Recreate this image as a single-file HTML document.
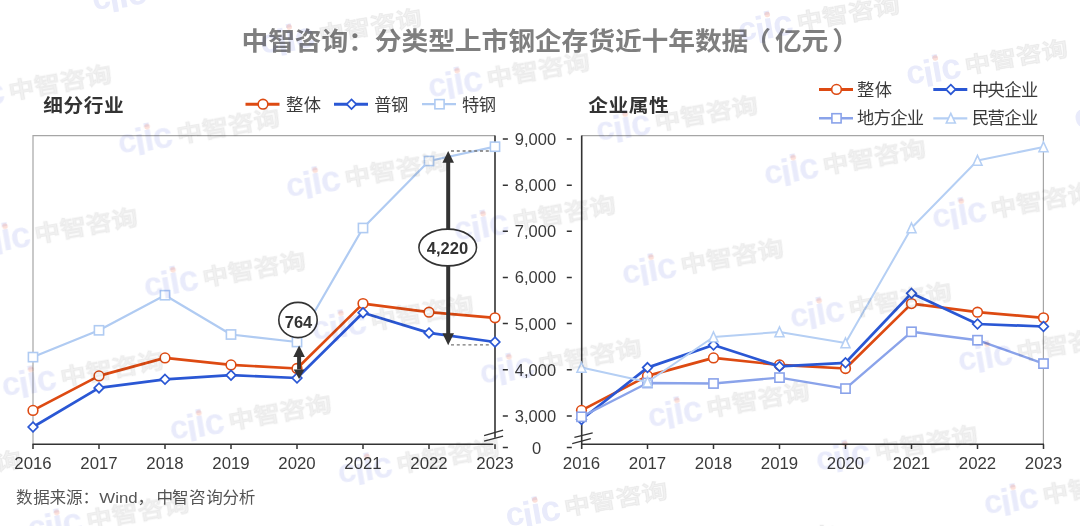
<!DOCTYPE html>
<html lang="zh-CN"><head><meta charset="utf-8"><title>中智咨询：分类型上市钢企存货近十年数据（亿元）</title>
<style>
html,body{margin:0;padding:0;background:#fff;width:1080px;height:526px;overflow:hidden;}
svg{display:block;}
text{font-family:"Liberation Sans","Noto Sans CJK SC",sans-serif;}
.cjk{font-family:"Liberation Sans","Noto Sans CJK SC",sans-serif;}
</style></head>
<body>
<svg width="1080" height="526" viewBox="0 0 1080 526">
<rect width="1080" height="526" fill="#fff"/>


<text class="cjk" transform="translate(241.50,50.20) scale(1.06,1)" x="0.00 25.16 50.32 75.48 100.64 125.80 150.96 176.12 201.28 226.44 251.60 276.76 301.92 327.08 352.25 377.41 402.57 427.73 452.89 474.27 503.21 528.37 557.30" y="0" font-size="25.3" font-weight="700" fill="#7f7f7f">中智咨询：分类型上市钢企存货近十年数据（亿元）</text>
<text class="cjk" transform="translate(43.30,111.90) scale(1.07,1)" x="0.00 18.88 37.76 56.64" y="0" font-size="18.4" font-weight="700" fill="#333">细分行业</text>
<text class="cjk" transform="translate(588.30,111.50) scale(1.07,1)" x="0.00 18.88 37.76 56.64" y="0" font-size="18.4" font-weight="700" fill="#333">企业属性</text>
<path d="M33 444.5V135.6H495" fill="none" stroke="#a6a6a6" stroke-width="1.2"/>
<path d="M32.5 444.3H493.3" stroke="#333" stroke-width="1.5"/>
<path d="M495 135.6V437.8" stroke="#333" stroke-width="1.6"/>
<path d="M33 444.3V449" stroke="#333" stroke-width="1.5"/>
<path d="M99 444.3V449" stroke="#333" stroke-width="1.5"/>
<path d="M165 444.3V449" stroke="#333" stroke-width="1.5"/>
<path d="M231 444.3V449" stroke="#333" stroke-width="1.5"/>
<path d="M297 444.3V449" stroke="#333" stroke-width="1.5"/>
<path d="M363 444.3V449" stroke="#333" stroke-width="1.5"/>
<path d="M429 444.3V449" stroke="#333" stroke-width="1.5"/>
<path d="M495 444.3V449" stroke="#333" stroke-width="1.5"/>
<path d="M484.1 435.7L503.1 430.2M484.1 441.2L503.1 436.1" stroke="#333" stroke-width="1.3"/>
<path d="M581.7 135.6H1043.4V444.3" fill="none" stroke="#a6a6a6" stroke-width="1.2"/>
<path d="M581.7 135.6V449" stroke="#333" stroke-width="1.6"/>
<path d="M581.7 444.3H1044" stroke="#333" stroke-width="1.5"/>
<path d="M647.5 444.3V449" stroke="#333" stroke-width="1.5"/>
<path d="M713.5 444.3V449" stroke="#333" stroke-width="1.5"/>
<path d="M779.5 444.3V449" stroke="#333" stroke-width="1.5"/>
<path d="M845.5 444.3V449" stroke="#333" stroke-width="1.5"/>
<path d="M911.5 444.3V449" stroke="#333" stroke-width="1.5"/>
<path d="M977.5 444.3V449" stroke="#333" stroke-width="1.5"/>
<path d="M1043.5 444.3V449" stroke="#333" stroke-width="1.5"/>
<path d="M574.4 437.4L592.7 432.9M572.2 443.7L590.8 438.7" stroke="#333" stroke-width="1.3"/>
<path d="M502.8 139.0H507.9M566.8 139.0H571.8" stroke="#333" stroke-width="1.5"/>
<text x="535.5" y="145.0" font-size="16.5" fill="#3a3a3a" text-anchor="middle">9,000</text>
<path d="M502.8 185.2H507.9M566.8 185.2H571.8" stroke="#333" stroke-width="1.5"/>
<text x="535.5" y="191.2" font-size="16.5" fill="#3a3a3a" text-anchor="middle">8,000</text>
<path d="M502.8 231.2H507.9M566.8 231.2H571.8" stroke="#333" stroke-width="1.5"/>
<text x="535.5" y="237.2" font-size="16.5" fill="#3a3a3a" text-anchor="middle">7,000</text>
<path d="M502.8 277.4H507.9M566.8 277.4H571.8" stroke="#333" stroke-width="1.5"/>
<text x="535.5" y="283.4" font-size="16.5" fill="#3a3a3a" text-anchor="middle">6,000</text>
<path d="M502.8 323.6H507.9M566.8 323.6H571.8" stroke="#333" stroke-width="1.5"/>
<text x="535.5" y="329.6" font-size="16.5" fill="#3a3a3a" text-anchor="middle">5,000</text>
<path d="M502.8 369.8H507.9M566.8 369.8H571.8" stroke="#333" stroke-width="1.5"/>
<text x="535.5" y="375.8" font-size="16.5" fill="#3a3a3a" text-anchor="middle">4,000</text>
<path d="M502.8 416.0H507.9M566.8 416.0H571.8" stroke="#333" stroke-width="1.5"/>
<text x="535.5" y="422.0" font-size="16.5" fill="#3a3a3a" text-anchor="middle">3,000</text>
<path d="M502.8 447.6H507.9M566.8 447.6H571.8" stroke="#333" stroke-width="1.5"/>
<text x="536.7" y="453.6" font-size="16.5" fill="#3a3a3a" text-anchor="middle">0</text>
<text x="33" y="469.3" font-size="16.8" fill="#3a3a3a" text-anchor="middle">2016</text>
<text x="99" y="469.3" font-size="16.8" fill="#3a3a3a" text-anchor="middle">2017</text>
<text x="165" y="469.3" font-size="16.8" fill="#3a3a3a" text-anchor="middle">2018</text>
<text x="231" y="469.3" font-size="16.8" fill="#3a3a3a" text-anchor="middle">2019</text>
<text x="297" y="469.3" font-size="16.8" fill="#3a3a3a" text-anchor="middle">2020</text>
<text x="363" y="469.3" font-size="16.8" fill="#3a3a3a" text-anchor="middle">2021</text>
<text x="429" y="469.3" font-size="16.8" fill="#3a3a3a" text-anchor="middle">2022</text>
<text x="495" y="469.3" font-size="16.8" fill="#3a3a3a" text-anchor="middle">2023</text>
<text x="581.5" y="469.3" font-size="16.8" fill="#3a3a3a" text-anchor="middle">2016</text>
<text x="647.5" y="469.3" font-size="16.8" fill="#3a3a3a" text-anchor="middle">2017</text>
<text x="713.5" y="469.3" font-size="16.8" fill="#3a3a3a" text-anchor="middle">2018</text>
<text x="779.5" y="469.3" font-size="16.8" fill="#3a3a3a" text-anchor="middle">2019</text>
<text x="845.5" y="469.3" font-size="16.8" fill="#3a3a3a" text-anchor="middle">2020</text>
<text x="911.5" y="469.3" font-size="16.8" fill="#3a3a3a" text-anchor="middle">2021</text>
<text x="977.5" y="469.3" font-size="16.8" fill="#3a3a3a" text-anchor="middle">2022</text>
<text x="1043.5" y="469.3" font-size="16.8" fill="#3a3a3a" text-anchor="middle">2023</text>
<polyline points="33.0,357.1 99.0,330.3 165.0,295.2 231.0,334.5 297.0,342.0 363.0,228.0 429.0,161.0 495.0,146.7" fill="none" stroke="#b0cbf2" stroke-width="2.2" stroke-linejoin="round"/><rect x="28.4" y="352.5" width="9.2" height="9.2" fill="#fff" stroke="#b0cbf2" stroke-width="1.6"/><rect x="94.4" y="325.7" width="9.2" height="9.2" fill="#fff" stroke="#b0cbf2" stroke-width="1.6"/><rect x="160.4" y="290.6" width="9.2" height="9.2" fill="#fff" stroke="#b0cbf2" stroke-width="1.6"/><rect x="226.4" y="329.9" width="9.2" height="9.2" fill="#fff" stroke="#b0cbf2" stroke-width="1.6"/><rect x="292.4" y="337.4" width="9.2" height="9.2" fill="#fff" stroke="#b0cbf2" stroke-width="1.6"/><rect x="358.4" y="223.4" width="9.2" height="9.2" fill="#fff" stroke="#b0cbf2" stroke-width="1.6"/><rect x="424.4" y="156.4" width="9.2" height="9.2" fill="#fff" stroke="#b0cbf2" stroke-width="1.6"/><rect x="490.4" y="142.1" width="9.2" height="9.2" fill="#fff" stroke="#b0cbf2" stroke-width="1.6"/>
<polyline points="33.0,410.4 99.0,375.9 165.0,357.9 231.0,364.9 297.0,368.5 363.0,303.6 429.0,312.2 495.0,317.8" fill="none" stroke="#dd4a12" stroke-width="2.7" stroke-linejoin="round"/><circle cx="33.0" cy="410.4" r="4.85" fill="#fff" stroke="#dd4a12" stroke-width="1.6"/><circle cx="99.0" cy="375.9" r="4.85" fill="#fff" stroke="#dd4a12" stroke-width="1.6"/><circle cx="165.0" cy="357.9" r="4.85" fill="#fff" stroke="#dd4a12" stroke-width="1.6"/><circle cx="231.0" cy="364.9" r="4.85" fill="#fff" stroke="#dd4a12" stroke-width="1.6"/><circle cx="297.0" cy="368.5" r="4.85" fill="#fff" stroke="#dd4a12" stroke-width="1.6"/><circle cx="363.0" cy="303.6" r="4.85" fill="#fff" stroke="#dd4a12" stroke-width="1.6"/><circle cx="429.0" cy="312.2" r="4.85" fill="#fff" stroke="#dd4a12" stroke-width="1.6"/><circle cx="495.0" cy="317.8" r="4.85" fill="#fff" stroke="#dd4a12" stroke-width="1.6"/>
<polyline points="33.0,427.0 99.0,387.9 165.0,379.3 231.0,375.2 297.0,378.0 363.0,312.7 429.0,332.9 495.0,342.0" fill="none" stroke="#2a57d4" stroke-width="2.7" stroke-linejoin="round"/><path d="M33.0 422.2L37.8 427.0L33.0 431.8L28.2 427.0Z" fill="#fff" stroke="#2a57d4" stroke-width="1.7"/><path d="M99.0 383.1L103.8 387.9L99.0 392.7L94.2 387.9Z" fill="#fff" stroke="#2a57d4" stroke-width="1.7"/><path d="M165.0 374.5L169.8 379.3L165.0 384.1L160.2 379.3Z" fill="#fff" stroke="#2a57d4" stroke-width="1.7"/><path d="M231.0 370.4L235.8 375.2L231.0 380.0L226.2 375.2Z" fill="#fff" stroke="#2a57d4" stroke-width="1.7"/><path d="M297.0 373.2L301.8 378.0L297.0 382.8L292.2 378.0Z" fill="#fff" stroke="#2a57d4" stroke-width="1.7"/><path d="M363.0 307.9L367.8 312.7L363.0 317.5L358.2 312.7Z" fill="#fff" stroke="#2a57d4" stroke-width="1.7"/><path d="M429.0 328.1L433.8 332.9L429.0 337.7L424.2 332.9Z" fill="#fff" stroke="#2a57d4" stroke-width="1.7"/><path d="M495.0 337.2L499.8 342.0L495.0 346.8L490.2 342.0Z" fill="#fff" stroke="#2a57d4" stroke-width="1.7"/>
<path d="M451 151H490" stroke="#777" stroke-width="1.3" stroke-dasharray="3 2.8"/>
<path d="M451 344.8H490" stroke="#777" stroke-width="1.3" stroke-dasharray="3 2.8"/>
<path d="M448.2 162V334" stroke="#333" stroke-width="4"/>
<path d="M448.2 151L454 162.8H442.4Z" fill="#333"/>
<path d="M448.2 345.2L454 333.3H442.4Z" fill="#333"/>
<ellipse cx="447.7" cy="247.5" rx="28.8" ry="18.4" fill="#fff" stroke="#333" stroke-width="1.6"/>
<text x="447.5" y="254.2" font-size="16.5" font-weight="700" fill="#333" text-anchor="middle">4,220</text>
<path d="M299.1 356V369.5" stroke="#333" stroke-width="4"/>
<path d="M299.1 345.4L304.9 357H293.3Z" fill="#333"/>
<path d="M299.1 379L304.5 369.5H293.7Z" fill="#333"/>
<ellipse cx="298" cy="320" rx="19.2" ry="17.6" fill="#fff" stroke="#333" stroke-width="1.6"/>
<text x="298.5" y="327.7" font-size="16.5" font-weight="700" fill="#333" text-anchor="middle">764</text>
<polyline points="581.5,410.4 647.5,375.9 713.5,357.9 779.5,364.9 845.5,368.5 911.5,303.6 977.5,312.2 1043.5,317.8" fill="none" stroke="#dd4a12" stroke-width="2.7" stroke-linejoin="round"/><circle cx="581.5" cy="410.4" r="4.85" fill="#fff" stroke="#dd4a12" stroke-width="1.6"/><circle cx="647.5" cy="375.9" r="4.85" fill="#fff" stroke="#dd4a12" stroke-width="1.6"/><circle cx="713.5" cy="357.9" r="4.85" fill="#fff" stroke="#dd4a12" stroke-width="1.6"/><circle cx="779.5" cy="364.9" r="4.85" fill="#fff" stroke="#dd4a12" stroke-width="1.6"/><circle cx="845.5" cy="368.5" r="4.85" fill="#fff" stroke="#dd4a12" stroke-width="1.6"/><circle cx="911.5" cy="303.6" r="4.85" fill="#fff" stroke="#dd4a12" stroke-width="1.6"/><circle cx="977.5" cy="312.2" r="4.85" fill="#fff" stroke="#dd4a12" stroke-width="1.6"/><circle cx="1043.5" cy="317.8" r="4.85" fill="#fff" stroke="#dd4a12" stroke-width="1.6"/>
<polyline points="581.5,419.5 647.5,367.6 713.5,345.0 779.5,366.4 845.5,362.8 911.5,293.3 977.5,324.0 1043.5,326.5" fill="none" stroke="#2a57d4" stroke-width="2.7" stroke-linejoin="round"/><path d="M581.5 414.7L586.3 419.5L581.5 424.3L576.7 419.5Z" fill="#fff" stroke="#2a57d4" stroke-width="1.7"/><path d="M647.5 362.8L652.3 367.6L647.5 372.4L642.7 367.6Z" fill="#fff" stroke="#2a57d4" stroke-width="1.7"/><path d="M713.5 340.2L718.3 345.0L713.5 349.8L708.7 345.0Z" fill="#fff" stroke="#2a57d4" stroke-width="1.7"/><path d="M779.5 361.6L784.3 366.4L779.5 371.2L774.7 366.4Z" fill="#fff" stroke="#2a57d4" stroke-width="1.7"/><path d="M845.5 358.0L850.3 362.8L845.5 367.6L840.7 362.8Z" fill="#fff" stroke="#2a57d4" stroke-width="1.7"/><path d="M911.5 288.5L916.3 293.3L911.5 298.1L906.7 293.3Z" fill="#fff" stroke="#2a57d4" stroke-width="1.7"/><path d="M977.5 319.2L982.3 324.0L977.5 328.8L972.7 324.0Z" fill="#fff" stroke="#2a57d4" stroke-width="1.7"/><path d="M1043.5 321.7L1048.3 326.5L1043.5 331.3L1038.7 326.5Z" fill="#fff" stroke="#2a57d4" stroke-width="1.7"/>
<polyline points="581.5,416.8 647.5,383.0 713.5,383.5 779.5,377.6 845.5,388.6 911.5,331.8 977.5,340.2 1043.5,363.6" fill="none" stroke="#8aa3ea" stroke-width="2.4" stroke-linejoin="round"/><rect x="576.9" y="412.2" width="9.2" height="9.2" fill="#fff" stroke="#8aa3ea" stroke-width="1.6"/><rect x="642.9" y="378.4" width="9.2" height="9.2" fill="#fff" stroke="#8aa3ea" stroke-width="1.6"/><rect x="708.9" y="378.9" width="9.2" height="9.2" fill="#fff" stroke="#8aa3ea" stroke-width="1.6"/><rect x="774.9" y="373.0" width="9.2" height="9.2" fill="#fff" stroke="#8aa3ea" stroke-width="1.6"/><rect x="840.9" y="384.0" width="9.2" height="9.2" fill="#fff" stroke="#8aa3ea" stroke-width="1.6"/><rect x="906.9" y="327.2" width="9.2" height="9.2" fill="#fff" stroke="#8aa3ea" stroke-width="1.6"/><rect x="972.9" y="335.6" width="9.2" height="9.2" fill="#fff" stroke="#8aa3ea" stroke-width="1.6"/><rect x="1038.9" y="359.0" width="9.2" height="9.2" fill="#fff" stroke="#8aa3ea" stroke-width="1.6"/>
<polyline points="581.5,367.5 647.5,382.0 713.5,337.0 779.5,332.0 845.5,343.0 911.5,228.0 977.5,160.5 1043.5,147.0" fill="none" stroke="#b5cff4" stroke-width="2.0" stroke-linejoin="round"/><path d="M581.5 362.5L586.0 372.2L577.0 372.2Z" fill="#fff" stroke="#b5cff4" stroke-width="1.6" stroke-linejoin="miter"/><path d="M647.5 377.0L652.0 386.7L643.0 386.7Z" fill="#fff" stroke="#b5cff4" stroke-width="1.6" stroke-linejoin="miter"/><path d="M713.5 332.0L718.0 341.7L709.0 341.7Z" fill="#fff" stroke="#b5cff4" stroke-width="1.6" stroke-linejoin="miter"/><path d="M779.5 327.0L784.0 336.7L775.0 336.7Z" fill="#fff" stroke="#b5cff4" stroke-width="1.6" stroke-linejoin="miter"/><path d="M845.5 338.0L850.0 347.7L841.0 347.7Z" fill="#fff" stroke="#b5cff4" stroke-width="1.6" stroke-linejoin="miter"/><path d="M911.5 223.0L916.0 232.7L907.0 232.7Z" fill="#fff" stroke="#b5cff4" stroke-width="1.6" stroke-linejoin="miter"/><path d="M977.5 155.5L982.0 165.2L973.0 165.2Z" fill="#fff" stroke="#b5cff4" stroke-width="1.6" stroke-linejoin="miter"/><path d="M1043.5 142.0L1048.0 151.7L1039.0 151.7Z" fill="#fff" stroke="#b5cff4" stroke-width="1.6" stroke-linejoin="miter"/>
<path d="M245.5 104.2H279.5" stroke="#dd4a12" stroke-width="3"/><circle cx="263.0" cy="104.2" r="4.85" fill="#fff" stroke="#dd4a12" stroke-width="1.6"/>
<path d="M334 104.2H368" stroke="#2a57d4" stroke-width="3"/><path d="M351.5 99.4L356.3 104.2L351.5 109.0L346.7 104.2Z" fill="#fff" stroke="#2a57d4" stroke-width="1.7"/>
<path d="M422 104.2H456" stroke="#b0cbf2" stroke-width="2.2"/><rect x="434.9" y="99.6" width="9.2" height="9.2" fill="#fff" stroke="#b0cbf2" stroke-width="1.6"/>
<text class="cjk" transform="translate(286.00,110.50) scale(1.03,1)" x="0.00 17.28" y="0" font-size="16.8" font-weight="400" fill="#3a3a3a">整体</text>
<text class="cjk" transform="translate(374.30,110.50) scale(1.03,1)" x="0.00 16.12" y="0" font-size="16.8" font-weight="400" fill="#3a3a3a">普钢</text>
<text class="cjk" transform="translate(462.10,110.50) scale(1.03,1)" x="0.00 16.12" y="0" font-size="16.8" font-weight="400" fill="#3a3a3a">特钢</text>
<path d="M819 89.4H853" stroke="#dd4a12" stroke-width="3"/><circle cx="836.5" cy="89.4" r="4.85" fill="#fff" stroke="#dd4a12" stroke-width="1.6"/>
<path d="M933.3 89.4H967.3" stroke="#2a57d4" stroke-width="3"/><path d="M950.8 84.6L955.6 89.4L950.8 94.2L946.0 89.4Z" fill="#fff" stroke="#2a57d4" stroke-width="1.7"/>
<path d="M819 118.3H853" stroke="#8aa3ea" stroke-width="2.6"/><rect x="831.9" y="113.7" width="9.2" height="9.2" fill="#fff" stroke="#8aa3ea" stroke-width="1.6"/>
<path d="M933.3 118.3H967.3" stroke="#b5cff4" stroke-width="2.2"/><path d="M950.8 113.3L955.3 123.0L946.3 123.0Z" fill="#fff" stroke="#b5cff4" stroke-width="1.6" stroke-linejoin="miter"/>
<text class="cjk" transform="translate(857.00,95.90) scale(1.03,1)" x="0.00 17.28" y="0" font-size="16.8" font-weight="400" fill="#3a3a3a">整体</text>
<text class="cjk" transform="translate(972.00,95.90) scale(1.03,1)" x="0.00 15.15 31.36 47.48" y="0" font-size="16.8" font-weight="400" fill="#3a3a3a">中央企业</text>
<text class="cjk" transform="translate(857.00,124.40) scale(1.03,1)" x="0.00 16.12 32.23 48.35" y="0" font-size="16.8" font-weight="400" fill="#3a3a3a">地方企业</text>
<text class="cjk" transform="translate(972.00,124.40) scale(1.03,1)" x="0.00 15.15 31.36 47.48" y="0" font-size="16.8" font-weight="400" fill="#3a3a3a">民营企业</text>
<text class="cjk" transform="translate(16.00,502.90) scale(1.05,1)" x="0.00 16.48 32.00 47.52 63.33" y="0" font-size="15.8" font-weight="400" fill="#555">数据来源：</text>
<text x="99.3" y="502.9" font-size="15.3" fill="#555" textLength="38.3" lengthAdjust="spacingAndGlyphs">Wind</text>
<text class="cjk" transform="translate(137.50,502.90) scale(1.05,1)" x="0.00 18.00 32.86 48.95 65.52 81.05 96.38" y="0" font-size="15.8" font-weight="400" fill="#555">，中智咨询分析</text>
<g style="mix-blend-mode:multiply"><g transform="translate(630.0,-13.1) rotate(-10)"><text class="cjk" transform="scale(1.19,1)" x="0" y="0" font-size="22" font-weight="700" letter-spacing="0" fill="#8c8c8c" fill-opacity="0.12" stroke="#8c8c8c" stroke-opacity="0.095" stroke-width="1">中智咨询</text><text x="-59.0 -42.3 -33.2 -23.9" y="0.5 6.0 3.0 2.5" font-weight="700" fill="#5566dd" opacity="0.13" font-family="Liberation Sans"><tspan font-size="33">c</tspan><tspan font-size="38">ii</tspan><tspan font-size="36">c</tspan></text><circle cx="-27.5" cy="-21" r="2.8" fill="#f07050" opacity="0.22"/></g><g transform="translate(798.0,30.4) rotate(-10)"><text class="cjk" transform="scale(1.19,1)" x="0" y="0" font-size="22" font-weight="700" letter-spacing="0" fill="#8c8c8c" fill-opacity="0.12" stroke="#8c8c8c" stroke-opacity="0.095" stroke-width="1">中智咨询</text><text x="-59.0 -42.3 -33.2 -23.9" y="0.5 6.0 3.0 2.5" font-weight="700" fill="#5566dd" opacity="0.13" font-family="Liberation Sans"><tspan font-size="33">c</tspan><tspan font-size="38">ii</tspan><tspan font-size="36">c</tspan></text><circle cx="-27.5" cy="-21" r="2.8" fill="#f07050" opacity="0.22"/></g><g transform="translate(966.0,73.9) rotate(-10)"><text class="cjk" transform="scale(1.19,1)" x="0" y="0" font-size="22" font-weight="700" letter-spacing="0" fill="#8c8c8c" fill-opacity="0.12" stroke="#8c8c8c" stroke-opacity="0.095" stroke-width="1">中智咨询</text><text x="-59.0 -42.3 -33.2 -23.9" y="0.5 6.0 3.0 2.5" font-weight="700" fill="#5566dd" opacity="0.13" font-family="Liberation Sans"><tspan font-size="33">c</tspan><tspan font-size="38">ii</tspan><tspan font-size="36">c</tspan></text><circle cx="-27.5" cy="-21" r="2.8" fill="#f07050" opacity="0.22"/></g><g transform="translate(1134.0,117.4) rotate(-10)"><text class="cjk" transform="scale(1.19,1)" x="0" y="0" font-size="22" font-weight="700" letter-spacing="0" fill="#8c8c8c" fill-opacity="0.12" stroke="#8c8c8c" stroke-opacity="0.095" stroke-width="1">中智咨询</text><text x="-59.0 -42.3 -33.2 -23.9" y="0.5 6.0 3.0 2.5" font-weight="700" fill="#5566dd" opacity="0.13" font-family="Liberation Sans"><tspan font-size="33">c</tspan><tspan font-size="38">ii</tspan><tspan font-size="36">c</tspan></text><circle cx="-27.5" cy="-21" r="2.8" fill="#f07050" opacity="0.22"/></g><g transform="translate(151.9,-0.5) rotate(-10)"><text class="cjk" transform="scale(1.19,1)" x="0" y="0" font-size="22" font-weight="700" letter-spacing="0" fill="#8c8c8c" fill-opacity="0.12" stroke="#8c8c8c" stroke-opacity="0.095" stroke-width="1">中智咨询</text><text x="-59.0 -42.3 -33.2 -23.9" y="0.5 6.0 3.0 2.5" font-weight="700" fill="#5566dd" opacity="0.13" font-family="Liberation Sans"><tspan font-size="33">c</tspan><tspan font-size="38">ii</tspan><tspan font-size="36">c</tspan></text><circle cx="-27.5" cy="-21" r="2.8" fill="#f07050" opacity="0.22"/></g><g transform="translate(319.9,43.0) rotate(-10)"><text class="cjk" transform="scale(1.19,1)" x="0" y="0" font-size="22" font-weight="700" letter-spacing="0" fill="#8c8c8c" fill-opacity="0.12" stroke="#8c8c8c" stroke-opacity="0.095" stroke-width="1">中智咨询</text><text x="-59.0 -42.3 -33.2 -23.9" y="0.5 6.0 3.0 2.5" font-weight="700" fill="#5566dd" opacity="0.13" font-family="Liberation Sans"><tspan font-size="33">c</tspan><tspan font-size="38">ii</tspan><tspan font-size="36">c</tspan></text><circle cx="-27.5" cy="-21" r="2.8" fill="#f07050" opacity="0.22"/></g><g transform="translate(487.9,86.5) rotate(-10)"><text class="cjk" transform="scale(1.19,1)" x="0" y="0" font-size="22" font-weight="700" letter-spacing="0" fill="#8c8c8c" fill-opacity="0.12" stroke="#8c8c8c" stroke-opacity="0.095" stroke-width="1">中智咨询</text><text x="-59.0 -42.3 -33.2 -23.9" y="0.5 6.0 3.0 2.5" font-weight="700" fill="#5566dd" opacity="0.13" font-family="Liberation Sans"><tspan font-size="33">c</tspan><tspan font-size="38">ii</tspan><tspan font-size="36">c</tspan></text><circle cx="-27.5" cy="-21" r="2.8" fill="#f07050" opacity="0.22"/></g><g transform="translate(655.9,130.0) rotate(-10)"><text class="cjk" transform="scale(1.19,1)" x="0" y="0" font-size="22" font-weight="700" letter-spacing="0" fill="#8c8c8c" fill-opacity="0.12" stroke="#8c8c8c" stroke-opacity="0.095" stroke-width="1">中智咨询</text><text x="-59.0 -42.3 -33.2 -23.9" y="0.5 6.0 3.0 2.5" font-weight="700" fill="#5566dd" opacity="0.13" font-family="Liberation Sans"><tspan font-size="33">c</tspan><tspan font-size="38">ii</tspan><tspan font-size="36">c</tspan></text><circle cx="-27.5" cy="-21" r="2.8" fill="#f07050" opacity="0.22"/></g><g transform="translate(823.9,173.5) rotate(-10)"><text class="cjk" transform="scale(1.19,1)" x="0" y="0" font-size="22" font-weight="700" letter-spacing="0" fill="#8c8c8c" fill-opacity="0.12" stroke="#8c8c8c" stroke-opacity="0.095" stroke-width="1">中智咨询</text><text x="-59.0 -42.3 -33.2 -23.9" y="0.5 6.0 3.0 2.5" font-weight="700" fill="#5566dd" opacity="0.13" font-family="Liberation Sans"><tspan font-size="33">c</tspan><tspan font-size="38">ii</tspan><tspan font-size="36">c</tspan></text><circle cx="-27.5" cy="-21" r="2.8" fill="#f07050" opacity="0.22"/></g><g transform="translate(991.9,217.0) rotate(-10)"><text class="cjk" transform="scale(1.19,1)" x="0" y="0" font-size="22" font-weight="700" letter-spacing="0" fill="#8c8c8c" fill-opacity="0.12" stroke="#8c8c8c" stroke-opacity="0.095" stroke-width="1">中智咨询</text><text x="-59.0 -42.3 -33.2 -23.9" y="0.5 6.0 3.0 2.5" font-weight="700" fill="#5566dd" opacity="0.13" font-family="Liberation Sans"><tspan font-size="33">c</tspan><tspan font-size="38">ii</tspan><tspan font-size="36">c</tspan></text><circle cx="-27.5" cy="-21" r="2.8" fill="#f07050" opacity="0.22"/></g><g transform="translate(9.8,99.1) rotate(-10)"><text class="cjk" transform="scale(1.19,1)" x="0" y="0" font-size="22" font-weight="700" letter-spacing="0" fill="#8c8c8c" fill-opacity="0.12" stroke="#8c8c8c" stroke-opacity="0.095" stroke-width="1">中智咨询</text><text x="-59.0 -42.3 -33.2 -23.9" y="0.5 6.0 3.0 2.5" font-weight="700" fill="#5566dd" opacity="0.13" font-family="Liberation Sans"><tspan font-size="33">c</tspan><tspan font-size="38">ii</tspan><tspan font-size="36">c</tspan></text><circle cx="-27.5" cy="-21" r="2.8" fill="#f07050" opacity="0.22"/></g><g transform="translate(177.8,142.6) rotate(-10)"><text class="cjk" transform="scale(1.19,1)" x="0" y="0" font-size="22" font-weight="700" letter-spacing="0" fill="#8c8c8c" fill-opacity="0.12" stroke="#8c8c8c" stroke-opacity="0.095" stroke-width="1">中智咨询</text><text x="-59.0 -42.3 -33.2 -23.9" y="0.5 6.0 3.0 2.5" font-weight="700" fill="#5566dd" opacity="0.13" font-family="Liberation Sans"><tspan font-size="33">c</tspan><tspan font-size="38">ii</tspan><tspan font-size="36">c</tspan></text><circle cx="-27.5" cy="-21" r="2.8" fill="#f07050" opacity="0.22"/></g><g transform="translate(345.8,186.1) rotate(-10)"><text class="cjk" transform="scale(1.19,1)" x="0" y="0" font-size="22" font-weight="700" letter-spacing="0" fill="#8c8c8c" fill-opacity="0.12" stroke="#8c8c8c" stroke-opacity="0.095" stroke-width="1">中智咨询</text><text x="-59.0 -42.3 -33.2 -23.9" y="0.5 6.0 3.0 2.5" font-weight="700" fill="#5566dd" opacity="0.13" font-family="Liberation Sans"><tspan font-size="33">c</tspan><tspan font-size="38">ii</tspan><tspan font-size="36">c</tspan></text><circle cx="-27.5" cy="-21" r="2.8" fill="#f07050" opacity="0.22"/></g><g transform="translate(513.8,229.6) rotate(-10)"><text class="cjk" transform="scale(1.19,1)" x="0" y="0" font-size="22" font-weight="700" letter-spacing="0" fill="#8c8c8c" fill-opacity="0.12" stroke="#8c8c8c" stroke-opacity="0.095" stroke-width="1">中智咨询</text><text x="-59.0 -42.3 -33.2 -23.9" y="0.5 6.0 3.0 2.5" font-weight="700" fill="#5566dd" opacity="0.13" font-family="Liberation Sans"><tspan font-size="33">c</tspan><tspan font-size="38">ii</tspan><tspan font-size="36">c</tspan></text><circle cx="-27.5" cy="-21" r="2.8" fill="#f07050" opacity="0.22"/></g><g transform="translate(681.8,273.1) rotate(-10)"><text class="cjk" transform="scale(1.19,1)" x="0" y="0" font-size="22" font-weight="700" letter-spacing="0" fill="#8c8c8c" fill-opacity="0.12" stroke="#8c8c8c" stroke-opacity="0.095" stroke-width="1">中智咨询</text><text x="-59.0 -42.3 -33.2 -23.9" y="0.5 6.0 3.0 2.5" font-weight="700" fill="#5566dd" opacity="0.13" font-family="Liberation Sans"><tspan font-size="33">c</tspan><tspan font-size="38">ii</tspan><tspan font-size="36">c</tspan></text><circle cx="-27.5" cy="-21" r="2.8" fill="#f07050" opacity="0.22"/></g><g transform="translate(849.8,316.6) rotate(-10)"><text class="cjk" transform="scale(1.19,1)" x="0" y="0" font-size="22" font-weight="700" letter-spacing="0" fill="#8c8c8c" fill-opacity="0.12" stroke="#8c8c8c" stroke-opacity="0.095" stroke-width="1">中智咨询</text><text x="-59.0 -42.3 -33.2 -23.9" y="0.5 6.0 3.0 2.5" font-weight="700" fill="#5566dd" opacity="0.13" font-family="Liberation Sans"><tspan font-size="33">c</tspan><tspan font-size="38">ii</tspan><tspan font-size="36">c</tspan></text><circle cx="-27.5" cy="-21" r="2.8" fill="#f07050" opacity="0.22"/></g><g transform="translate(1017.8,360.1) rotate(-10)"><text class="cjk" transform="scale(1.19,1)" x="0" y="0" font-size="22" font-weight="700" letter-spacing="0" fill="#8c8c8c" fill-opacity="0.12" stroke="#8c8c8c" stroke-opacity="0.095" stroke-width="1">中智咨询</text><text x="-59.0 -42.3 -33.2 -23.9" y="0.5 6.0 3.0 2.5" font-weight="700" fill="#5566dd" opacity="0.13" font-family="Liberation Sans"><tspan font-size="33">c</tspan><tspan font-size="38">ii</tspan><tspan font-size="36">c</tspan></text><circle cx="-27.5" cy="-21" r="2.8" fill="#f07050" opacity="0.22"/></g><g transform="translate(35.7,242.2) rotate(-10)"><text class="cjk" transform="scale(1.19,1)" x="0" y="0" font-size="22" font-weight="700" letter-spacing="0" fill="#8c8c8c" fill-opacity="0.12" stroke="#8c8c8c" stroke-opacity="0.095" stroke-width="1">中智咨询</text><text x="-59.0 -42.3 -33.2 -23.9" y="0.5 6.0 3.0 2.5" font-weight="700" fill="#5566dd" opacity="0.13" font-family="Liberation Sans"><tspan font-size="33">c</tspan><tspan font-size="38">ii</tspan><tspan font-size="36">c</tspan></text><circle cx="-27.5" cy="-21" r="2.8" fill="#f07050" opacity="0.22"/></g><g transform="translate(203.7,285.7) rotate(-10)"><text class="cjk" transform="scale(1.19,1)" x="0" y="0" font-size="22" font-weight="700" letter-spacing="0" fill="#8c8c8c" fill-opacity="0.12" stroke="#8c8c8c" stroke-opacity="0.095" stroke-width="1">中智咨询</text><text x="-59.0 -42.3 -33.2 -23.9" y="0.5 6.0 3.0 2.5" font-weight="700" fill="#5566dd" opacity="0.13" font-family="Liberation Sans"><tspan font-size="33">c</tspan><tspan font-size="38">ii</tspan><tspan font-size="36">c</tspan></text><circle cx="-27.5" cy="-21" r="2.8" fill="#f07050" opacity="0.22"/></g><g transform="translate(371.7,329.2) rotate(-10)"><text class="cjk" transform="scale(1.19,1)" x="0" y="0" font-size="22" font-weight="700" letter-spacing="0" fill="#8c8c8c" fill-opacity="0.12" stroke="#8c8c8c" stroke-opacity="0.095" stroke-width="1">中智咨询</text><text x="-59.0 -42.3 -33.2 -23.9" y="0.5 6.0 3.0 2.5" font-weight="700" fill="#5566dd" opacity="0.13" font-family="Liberation Sans"><tspan font-size="33">c</tspan><tspan font-size="38">ii</tspan><tspan font-size="36">c</tspan></text><circle cx="-27.5" cy="-21" r="2.8" fill="#f07050" opacity="0.22"/></g><g transform="translate(539.7,372.7) rotate(-10)"><text class="cjk" transform="scale(1.19,1)" x="0" y="0" font-size="22" font-weight="700" letter-spacing="0" fill="#8c8c8c" fill-opacity="0.12" stroke="#8c8c8c" stroke-opacity="0.095" stroke-width="1">中智咨询</text><text x="-59.0 -42.3 -33.2 -23.9" y="0.5 6.0 3.0 2.5" font-weight="700" fill="#5566dd" opacity="0.13" font-family="Liberation Sans"><tspan font-size="33">c</tspan><tspan font-size="38">ii</tspan><tspan font-size="36">c</tspan></text><circle cx="-27.5" cy="-21" r="2.8" fill="#f07050" opacity="0.22"/></g><g transform="translate(707.7,416.2) rotate(-10)"><text class="cjk" transform="scale(1.19,1)" x="0" y="0" font-size="22" font-weight="700" letter-spacing="0" fill="#8c8c8c" fill-opacity="0.12" stroke="#8c8c8c" stroke-opacity="0.095" stroke-width="1">中智咨询</text><text x="-59.0 -42.3 -33.2 -23.9" y="0.5 6.0 3.0 2.5" font-weight="700" fill="#5566dd" opacity="0.13" font-family="Liberation Sans"><tspan font-size="33">c</tspan><tspan font-size="38">ii</tspan><tspan font-size="36">c</tspan></text><circle cx="-27.5" cy="-21" r="2.8" fill="#f07050" opacity="0.22"/></g><g transform="translate(875.7,459.7) rotate(-10)"><text class="cjk" transform="scale(1.19,1)" x="0" y="0" font-size="22" font-weight="700" letter-spacing="0" fill="#8c8c8c" fill-opacity="0.12" stroke="#8c8c8c" stroke-opacity="0.095" stroke-width="1">中智咨询</text><text x="-59.0 -42.3 -33.2 -23.9" y="0.5 6.0 3.0 2.5" font-weight="700" fill="#5566dd" opacity="0.13" font-family="Liberation Sans"><tspan font-size="33">c</tspan><tspan font-size="38">ii</tspan><tspan font-size="36">c</tspan></text><circle cx="-27.5" cy="-21" r="2.8" fill="#f07050" opacity="0.22"/></g><g transform="translate(1043.7,503.2) rotate(-10)"><text class="cjk" transform="scale(1.19,1)" x="0" y="0" font-size="22" font-weight="700" letter-spacing="0" fill="#8c8c8c" fill-opacity="0.12" stroke="#8c8c8c" stroke-opacity="0.095" stroke-width="1">中智咨询</text><text x="-59.0 -42.3 -33.2 -23.9" y="0.5 6.0 3.0 2.5" font-weight="700" fill="#5566dd" opacity="0.13" font-family="Liberation Sans"><tspan font-size="33">c</tspan><tspan font-size="38">ii</tspan><tspan font-size="36">c</tspan></text><circle cx="-27.5" cy="-21" r="2.8" fill="#f07050" opacity="0.22"/></g><g transform="translate(-106.4,341.8) rotate(-10)"><text class="cjk" transform="scale(1.19,1)" x="0" y="0" font-size="22" font-weight="700" letter-spacing="0" fill="#8c8c8c" fill-opacity="0.12" stroke="#8c8c8c" stroke-opacity="0.095" stroke-width="1">中智咨询</text><text x="-59.0 -42.3 -33.2 -23.9" y="0.5 6.0 3.0 2.5" font-weight="700" fill="#5566dd" opacity="0.13" font-family="Liberation Sans"><tspan font-size="33">c</tspan><tspan font-size="38">ii</tspan><tspan font-size="36">c</tspan></text><circle cx="-27.5" cy="-21" r="2.8" fill="#f07050" opacity="0.22"/></g><g transform="translate(61.6,385.3) rotate(-10)"><text class="cjk" transform="scale(1.19,1)" x="0" y="0" font-size="22" font-weight="700" letter-spacing="0" fill="#8c8c8c" fill-opacity="0.12" stroke="#8c8c8c" stroke-opacity="0.095" stroke-width="1">中智咨询</text><text x="-59.0 -42.3 -33.2 -23.9" y="0.5 6.0 3.0 2.5" font-weight="700" fill="#5566dd" opacity="0.13" font-family="Liberation Sans"><tspan font-size="33">c</tspan><tspan font-size="38">ii</tspan><tspan font-size="36">c</tspan></text><circle cx="-27.5" cy="-21" r="2.8" fill="#f07050" opacity="0.22"/></g><g transform="translate(229.6,428.8) rotate(-10)"><text class="cjk" transform="scale(1.19,1)" x="0" y="0" font-size="22" font-weight="700" letter-spacing="0" fill="#8c8c8c" fill-opacity="0.12" stroke="#8c8c8c" stroke-opacity="0.095" stroke-width="1">中智咨询</text><text x="-59.0 -42.3 -33.2 -23.9" y="0.5 6.0 3.0 2.5" font-weight="700" fill="#5566dd" opacity="0.13" font-family="Liberation Sans"><tspan font-size="33">c</tspan><tspan font-size="38">ii</tspan><tspan font-size="36">c</tspan></text><circle cx="-27.5" cy="-21" r="2.8" fill="#f07050" opacity="0.22"/></g><g transform="translate(397.6,472.3) rotate(-10)"><text class="cjk" transform="scale(1.19,1)" x="0" y="0" font-size="22" font-weight="700" letter-spacing="0" fill="#8c8c8c" fill-opacity="0.12" stroke="#8c8c8c" stroke-opacity="0.095" stroke-width="1">中智咨询</text><text x="-59.0 -42.3 -33.2 -23.9" y="0.5 6.0 3.0 2.5" font-weight="700" fill="#5566dd" opacity="0.13" font-family="Liberation Sans"><tspan font-size="33">c</tspan><tspan font-size="38">ii</tspan><tspan font-size="36">c</tspan></text><circle cx="-27.5" cy="-21" r="2.8" fill="#f07050" opacity="0.22"/></g><g transform="translate(565.6,515.8) rotate(-10)"><text class="cjk" transform="scale(1.19,1)" x="0" y="0" font-size="22" font-weight="700" letter-spacing="0" fill="#8c8c8c" fill-opacity="0.12" stroke="#8c8c8c" stroke-opacity="0.095" stroke-width="1">中智咨询</text><text x="-59.0 -42.3 -33.2 -23.9" y="0.5 6.0 3.0 2.5" font-weight="700" fill="#5566dd" opacity="0.13" font-family="Liberation Sans"><tspan font-size="33">c</tspan><tspan font-size="38">ii</tspan><tspan font-size="36">c</tspan></text><circle cx="-27.5" cy="-21" r="2.8" fill="#f07050" opacity="0.22"/></g><g transform="translate(733.6,559.3) rotate(-10)"><text class="cjk" transform="scale(1.19,1)" x="0" y="0" font-size="22" font-weight="700" letter-spacing="0" fill="#8c8c8c" fill-opacity="0.12" stroke="#8c8c8c" stroke-opacity="0.095" stroke-width="1">中智咨询</text><text x="-59.0 -42.3 -33.2 -23.9" y="0.5 6.0 3.0 2.5" font-weight="700" fill="#5566dd" opacity="0.13" font-family="Liberation Sans"><tspan font-size="33">c</tspan><tspan font-size="38">ii</tspan><tspan font-size="36">c</tspan></text><circle cx="-27.5" cy="-21" r="2.8" fill="#f07050" opacity="0.22"/></g><g transform="translate(-80.5,484.9) rotate(-10)"><text class="cjk" transform="scale(1.19,1)" x="0" y="0" font-size="22" font-weight="700" letter-spacing="0" fill="#8c8c8c" fill-opacity="0.12" stroke="#8c8c8c" stroke-opacity="0.095" stroke-width="1">中智咨询</text><text x="-59.0 -42.3 -33.2 -23.9" y="0.5 6.0 3.0 2.5" font-weight="700" fill="#5566dd" opacity="0.13" font-family="Liberation Sans"><tspan font-size="33">c</tspan><tspan font-size="38">ii</tspan><tspan font-size="36">c</tspan></text><circle cx="-27.5" cy="-21" r="2.8" fill="#f07050" opacity="0.22"/></g><g transform="translate(87.5,528.4) rotate(-10)"><text class="cjk" transform="scale(1.19,1)" x="0" y="0" font-size="22" font-weight="700" letter-spacing="0" fill="#8c8c8c" fill-opacity="0.12" stroke="#8c8c8c" stroke-opacity="0.095" stroke-width="1">中智咨询</text><text x="-59.0 -42.3 -33.2 -23.9" y="0.5 6.0 3.0 2.5" font-weight="700" fill="#5566dd" opacity="0.13" font-family="Liberation Sans"><tspan font-size="33">c</tspan><tspan font-size="38">ii</tspan><tspan font-size="36">c</tspan></text><circle cx="-27.5" cy="-21" r="2.8" fill="#f07050" opacity="0.22"/></g></g>
</svg>
</body></html>
